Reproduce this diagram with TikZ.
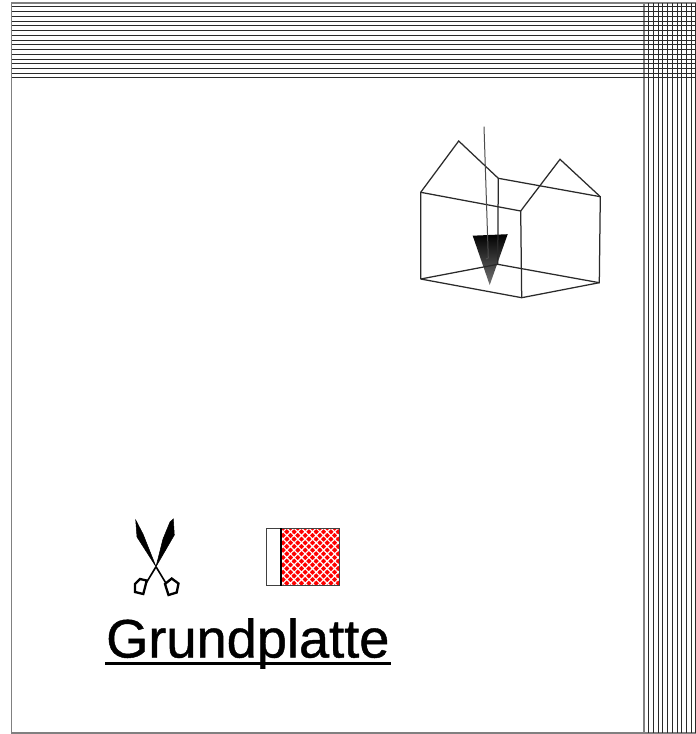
\documentclass[tikz,border=0pt]{standalone}
\usepackage{xcolor}
\usepackage{fontspec}
\setmainfont[FakeBold=0.8]{Liberation Sans}
\usetikzlibrary{calc,patterns.meta}
\definecolor{ink}{HTML}{2A2A2A}
\definecolor{frame}{HTML}{808080}
\definecolor{plate}{HTML}{FF0000}

\begin{document}
\begin{tikzpicture}[
  x=1pt,y=-1pt,
  rail/.style={line width=0.95pt,color=ink},
  border/.style={line width=1.3pt,color=frame},
  wire/.style={line width=1.25pt,color=ink},
  blade/.style={fill=black,draw=black,line width=0.5pt},
  grip/.style={draw=black,line width=2.3pt,fill=white,line join=miter},
  title/.style={font=\fontsize{54.2}{54}\selectfont,inner sep=0pt,anchor=base west}
]
\useasboundingbox (0,0) rectangle (696,734);
\fill[white] (0,0) rectangle (696,734);
% frame and rails
\draw[border] (11.5,3) rectangle (644,733);
\draw[border] (644,3) -- (696,3);
\draw[border] (644,733) -- (696,733);
\foreach \y in {6.8,11.6,16.3,21,25.8,30.5,35.3,40,44.8,49.6,54.3,59,63.8,68.6,73.4,77.6}
  \draw[rail] (11.5,\y) -- (696,\y);
\foreach \x in {648.4,653.2,658,662.7,667.4,672.2,677,681.8,686.6,691.3,695.6}
  \draw[rail] (\x,3) -- (\x,733);
% house
\coordinate (fl) at (420.7,279);
\coordinate (fb) at (521.7,297.7);
\coordinate (rb) at (599.3,282.7);
\coordinate (bb) at (497.7,264.3);
\coordinate (tl) at (420.7,192.3);
\coordinate (tf) at (520.7,211);
\coordinate (tr) at (600.3,196.7);
\coordinate (tb) at (498.3,178.3);
\coordinate (gablea) at (458.7,141);
\coordinate (gableb) at (560,159.3);
\draw[wire] (fl) -- (tl) -- (gablea) -- (tb) -- (tr) -- (rb) -- (fb) -- (fl);
\draw[wire] (tl) -- (tf) -- (fb);
\draw[wire] (tf) -- (gableb) -- (tr);
% marker
\coordinate (tipa) at (472.7,235.7);
\coordinate (tipb) at (507.7,234.2);
\coordinate (tipc) at (489.7,285);
\shade[top color=black,bottom color=black!55] (tipa) -- (tipb) -- (tipc) -- cycle;
\draw[wire] (tb) -- (bb);
\draw[wire] (fl) -- (bb) -- (rb);
\coordinate (stem) at (484,126.7);
\coordinate (stemend) at (488.3,258);
\coordinate (stemhook) at (486,259);
\draw[wire,line width=1pt,color=black!70] (stem) -- (stemend) -- (stemhook);
% scissors
\coordinate (pivot) at (156,566.7);
\fill[blade] (135.7,520) -- (143,534) -- (pivot) -- (137,537) -- cycle;
\fill[blade] (173.3,519) -- (174.3,535) -- (pivot) -- (163,539) -- (170,522) -- cycle;
\draw[line width=1.6pt] (pivot) -- (167,585);
\draw[line width=1.6pt] (pivot) -- (145,585);
\draw[grip] (165,584) -- (171.7,578.5) -- (178.5,583.5) -- (176.7,592.5) -- (168.5,595) -- cycle;
\draw[grip] (135,584) -- (140,579) -- (146.7,580.5) -- (143.3,594) -- (135,592) -- cycle;
% plate
\coordinate (platea) at (266.3,528.3);
\coordinate (plateb) at (281,585.7);
\coordinate (platec) at (339.5,528.3);
\path[fill=plate] (plateb |- platea) rectangle (platec |- plateb);
\path[pattern={Hatch[angle=45,distance=5.2pt,line width=1.2pt]},pattern color=white] (plateb |- platea) rectangle (platec |- plateb);
\draw[line width=1.2pt,color=black!75] (platea) rectangle (platec |- plateb);
\draw[line width=1.2pt] (plateb |- platea) -- (plateb);
% label
\node[title] (label) at (106,657.5) {Grundplatte};
\draw[line width=3.4pt] ($(label.base west)+(-1,6)$) -- ($(label.base east)+(1,6)$);
\end{tikzpicture}
\end{document}
